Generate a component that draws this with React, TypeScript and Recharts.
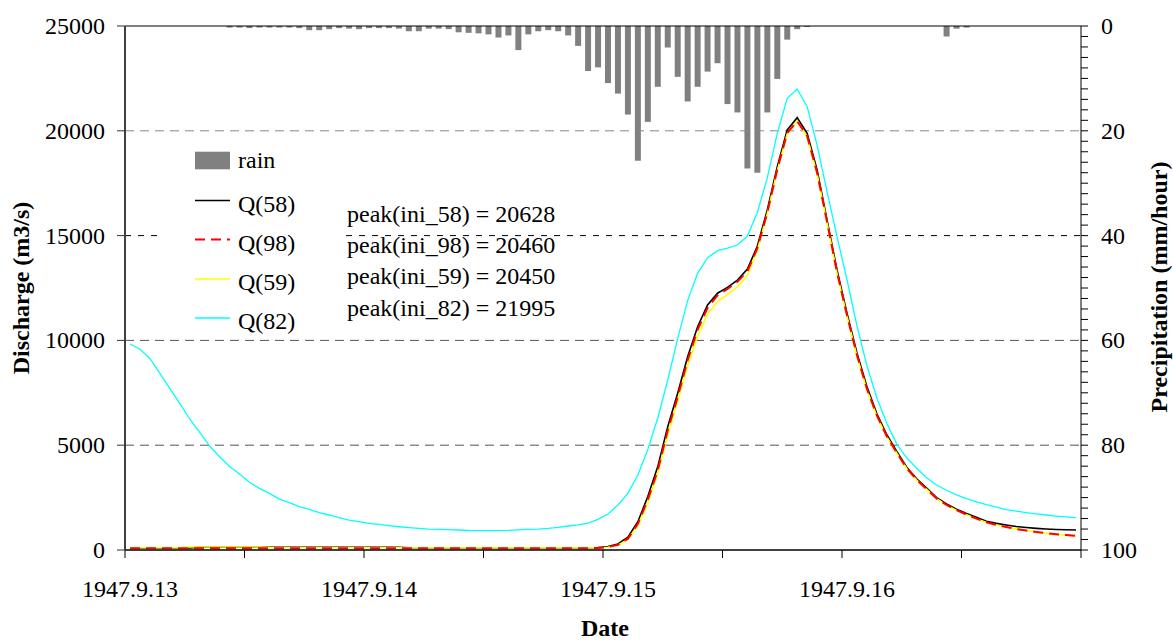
import React from 'react'
import { ComposedChart, Bar, Line, XAxis, YAxis, ReferenceLine, Legend, Customized } from 'recharts'

const FONT = "'Liberation Serif', 'Times New Roman', serif"

// x axis: hours from 1947.9.13 00:00, one point per hour (plotted at the middle of each hour)
const dayLabels = ['1947.9.13', '1947.9.14', '1947.9.15', '1947.9.16']
const hourTicks = [0, 12, 24, 36, 48, 60, 72, 84, 96]
const dischargeTicks = [0, 5000, 10000, 15000, 20000, 25000]
const rainTicks = [0, 2, 4, 6, 8, 10, 12, 14, 16, 18, 20, 22, 24, 26, 28, 30, 32, 34, 36, 38, 40, 42, 44, 46, 48, 50,
  52, 54, 56, 58, 60, 62, 64, 66, 68, 70, 72, 74, 76, 78, 80, 82, 84, 86, 88, 90, 92, 94, 96, 98, 100]

// mm/hour
const rain = [
  0, 0, 0, 0, 0, 0, 0, 0, 0, 0,
  0.3, 0.3, 0.4, 0.3, 0.3, 0.3, 0.3, 0.4, 0.8, 0.8,
  0.6, 0.4, 0.5, 0.6, 0.4, 0.4, 0.4, 0.5, 1.0, 1.0,
  0.5, 0.5, 0.6, 1.2, 1.3, 1.4, 1.6, 2.2, 1.8, 4.6,
  1.6, 1.0, 0.8, 1.0, 1.8, 3.8, 8.6, 7.9, 10.9, 12.9,
  16.9, 25.7, 18.3, 11.6, 4.1, 9.7, 14.4, 11.6, 8.7, 7.1,
  14.9, 16.5, 27.2, 28.0, 16.5, 10.1, 2.6, 0.6, 0.2, 0,
  0, 0, 0, 0, 0, 0, 0, 0, 0, 0,
  0, 0, 2.0, 0.5, 0.3, 0, 0, 0, 0, 0,
  0, 0, 0, 0, 0, 0,
]

// m3/s
const q58 = [
  100, 100, 100, 100, 100, 100, 100, 130, 130, 130,
  130, 130, 130, 130, 130, 130, 130, 130, 130, 130,
  130, 130, 130, 130, 130, 130, 130, 130, 110, 110,
  110, 110, 110, 110, 110, 110, 110, 110, 110, 110,
  110, 110, 110, 110, 110, 110, 110, 120, 160, 290,
  610, 1350, 2550, 3980, 5880, 7480, 9220, 10650, 11690, 12250,
  12530, 12880, 13400, 14500, 16220, 18290, 20040, 20628, 19880, 18130,
  15740, 13360, 11300, 9400, 7800, 6500, 5500, 4700, 3950, 3400,
  2950, 2500, 2200, 1950, 1740, 1560, 1370, 1270, 1190, 1120,
  1070, 1030, 1000, 980, 965, 955,
]

const q98 = [
  80, 80, 80, 80, 80, 80, 80, 80, 80, 80,
  80, 80, 80, 80, 80, 80, 80, 80, 80, 80,
  80, 80, 80, 80, 80, 80, 80, 80, 80, 80,
  80, 80, 80, 80, 80, 80, 80, 80, 80, 80,
  80, 80, 80, 80, 80, 80, 85, 100, 140, 250,
  540, 1250, 2400, 3800, 5700, 7300, 9050, 10500, 11550, 12150,
  12450, 12800, 13300, 14400, 16100, 18150, 19900, 20460, 19750, 18000,
  15650, 13250, 11200, 9300, 7700, 6420, 5430, 4640, 3900, 3350,
  2900, 2460, 2150, 1900, 1690, 1500, 1320, 1200, 1100, 1000,
  930, 860, 800, 750, 710, 670,
]

const q59 = [
  110, 110, 110, 110, 110, 110, 140, 140, 140, 140,
  140, 140, 140, 140, 110, 110, 110, 110, 110, 110,
  110, 110, 110, 110, 110, 110, 110, 110, 110, 110,
  110, 110, 110, 110, 110, 110, 110, 110, 110, 110,
  110, 110, 110, 110, 110, 110, 110, 110, 130, 230,
  500, 1150, 2250, 3650, 5500, 7100, 8800, 10200, 11250, 11850,
  12200, 12550, 13100, 14300, 16050, 18100, 19850, 20450, 19700, 17950,
  15600, 13200, 11150, 9250, 7650, 6380, 5400, 4620, 3890, 3340,
  2890, 2450, 2140, 1890, 1680, 1490, 1310, 1190, 1090, 995,
  925, 855, 795, 745, 705, 665,
]

const q82 = [
  9830, 9580, 9140, 8430, 7710, 7000, 6250, 5610, 4960, 4450,
  3980, 3630, 3230, 2940, 2700, 2430, 2260, 2070, 1940, 1780,
  1670, 1540, 1430, 1350, 1270, 1220, 1160, 1110, 1070, 1030,
  1000, 985, 970, 955, 930, 925, 920, 922, 935, 960,
  985, 1000, 1030, 1080, 1145, 1200, 1280, 1460, 1720, 2150,
  2700, 3580, 4800, 6300, 8100, 10100, 11900, 13200, 13950, 14280,
  14400, 14550, 14980, 16100, 17750, 19880, 21550, 21995, 21150, 19320,
  17100, 14950, 12900, 10700, 8800, 7250, 6050, 5050, 4400, 3900,
  3450, 3100, 2850, 2630, 2450, 2300, 2160, 2040, 1930, 1850,
  1780, 1720, 1670, 1620, 1580, 1540,
]

const peakLabels = ['ini_58', 'ini_98', 'ini_59', 'ini_82']
const peakValues = [20628, 20460, 20450, 21995]

const series = [
  { key: 'q58', name: 'Q(58)', color: '#000000', width: 1.6, dash: undefined },
  { key: 'q59', name: 'Q(59)', color: '#ffff00', width: 1.6, dash: undefined },
  { key: 'q98', name: 'Q(98)', color: '#ff0000', width: 2, dash: '10 6' },
  { key: 'q82', name: 'Q(82)', color: '#00ffff', width: 1.3, dash: undefined },
]
const legendOrder = ['q58', 'q98', 'q59', 'q82']

const rows = rain.map((r, i) => ({
  t: i + 0.5,
  rain: r,
  q58: q58[i],
  q98: q98[i],
  q59: q59[i],
  q82: q82[i],
}))

function LeftTick(props: any) {
  const { x, y, payload } = props
  return (
    <text x={x - 10} y={y} dy={8} textAnchor="end" fontFamily={FONT} fontSize={24} fill="#000">
      {payload.value}
    </text>
  )
}

function RightTick(props: any) {
  const { x, y, payload } = props
  if (payload.value % 20 !== 0) return <g />
  return (
    <text x={x + 11} y={y} dy={8} textAnchor="start" fontFamily={FONT} fontSize={24} fill="#000">
      {payload.value}
    </text>
  )
}

function DateTick(props: any) {
  const { x, y, payload } = props
  const v = payload.value
  if (v % 24 !== 0 || v >= 96) return <g />
  return (
    <text x={x + 5} y={y + 37} textAnchor="middle" fontFamily={FONT} fontSize={24} fill="#000">
      {dayLabels[v / 24]}
    </text>
  )
}

function LegendBox() {
  const rowY = [160.5, 200.5, 239.5, 279, 318]
  return (
    <svg width={185} height={198} style={{ display: 'block', background: '#fff' }}>
      <rect x={38} y={rowY[0] - 140 - 8.8} width={35} height={17.6} fill="#808080" />
      <text x={81} y={rowY[0] - 140 + 7.5} fontFamily={FONT} fontSize={24} fill="#000">rain</text>
      {legendOrder.map((k, i) => {
        const s = series.find((d) => d.key === k)!
        const y = rowY[i + 1] - 140
        return (
          <g key={k}>
            <line x1={38} x2={73} y1={y} y2={y} stroke={s.color} strokeWidth={s.dash ? 2 : 1.6} strokeDasharray={s.dash} />
            <text x={81} y={y + 11} fontFamily={FONT} fontSize={24} fill="#000">{s.name}</text>
          </g>
        )
      })}
    </svg>
  )
}

function Titles() {
  const base = [221.7, 253, 284.3, 315.6]
  return (
    <g fontFamily={FONT} fill="#000">
      <text x={21} y={288} transform="rotate(-90 21 288)" textAnchor="middle" dominantBaseline="central"
        fontSize={24} fontWeight="bold">Discharge (m3/s)</text>
      <text x={1159} y={287} transform="rotate(-90 1159 287)" textAnchor="middle" dominantBaseline="central"
        fontSize={24} fontWeight="bold">Precipitation (mm/hour)</text>
      <text x={605} y={636} textAnchor="middle" fontSize={24} fontWeight="bold">Date</text>
      {peakLabels.map((p, i) => (
        <text key={p} x={347} y={base[i]} fontSize={24}>{`peak(${p}) = ${peakValues[i]}`}</text>
      ))}
    </g>
  )
}

export default function App() {
  return (
    <div style={{ position: 'absolute', left: 0, top: 0, width: 1173, height: 642, background: '#fff' }}>
      <ComposedChart width={1173} height={642} data={rows} margin={{ top: 26, right: 0, bottom: 0, left: 0 }}>
        <XAxis
          xAxisId="t"
          dataKey="t"
          type="number"
          domain={[0, 96]}
          ticks={hourTicks}
          height={92}
          tickSize={8}
          tick={<DateTick />}
          axisLine={{ stroke: '#000', strokeWidth: 1.3 }}
          tickLine={{ stroke: '#000' }}
        />
        <YAxis
          yAxisId="left"
          domain={[0, 25000]}
          ticks={dischargeTicks}
          width={125}
          tickSize={8}
          tick={<LeftTick />}
          axisLine={{ stroke: '#404040', strokeWidth: 2 }}
          tickLine={{ stroke: '#333' }}
        />
        <YAxis
          yAxisId="right"
          orientation="right"
          reversed
          domain={[0, 100]}
          ticks={rainTicks}
          interval={0}
          width={92}
          tickSize={7}
          tick={<RightTick />}
          axisLine={{ stroke: '#000' }}
          tickLine={{ stroke: '#000' }}
        />
        <ReferenceLine xAxisId="t" yAxisId="left" y={20000} stroke="#888" strokeDasharray="9 6" />
        <ReferenceLine xAxisId="t" yAxisId="left" y={15000} stroke="#000" strokeDasharray="6 7" />
        <ReferenceLine xAxisId="t" yAxisId="left" y={10000} stroke="#555" strokeDasharray="9 6" />
        <ReferenceLine xAxisId="t" yAxisId="left" y={5000} stroke="#555" strokeDasharray="9 6" />
        <ReferenceLine xAxisId="t" yAxisId="left" y={25000} stroke="#000" />
        <Bar xAxisId="t" yAxisId="right" dataKey="rain" fill="#808080" barSize={6} isAnimationActive={false} />
        {series.map((s) => (
          <Line
            key={s.key}
            xAxisId="t"
            yAxisId="left"
            type="linear"
            dataKey={s.key}
            name={s.name}
            stroke={s.color}
            strokeWidth={s.width}
            strokeDasharray={s.dash}
            dot={false}
            activeDot={false}
            isAnimationActive={false}
          />
        ))}
        <Legend
          layout="vertical"
          align="center"
          verticalAlign="middle"
          width={185}
          height={198}
          wrapperStyle={{ left: 157, top: 140, width: 185, height: 198 }}
          content={() => <LegendBox />}
        />
        <Customized component={Titles} />
      </ComposedChart>
    </div>
  )
}
